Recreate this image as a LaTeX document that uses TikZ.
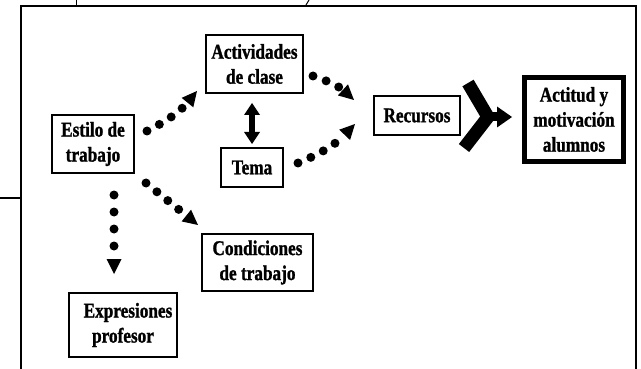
\documentclass[tikz,border=0pt]{standalone}
\usepackage{fontspec}
\newfontfamily\boxfont{Liberation Serif}[FakeStretch=0.82,FakeBold=1.2]
\usetikzlibrary{arrows.meta}
\usetikzlibrary{calc}

\begin{document}
\begin{tikzpicture}[x=1pt,y=-1pt,line join=miter]
  \tikzset{box/.style={draw,line width=2pt,inner sep=0pt,align=center,
      font=\boxfont\bfseries\fontsize{21}{25}\selectfont}}
  \tikzset{dotarrow/.style={line width=9pt,line cap=round,dash pattern=on 0pt off #1pt,
      -{Triangle[length=15pt,width=15pt,line width=0pt]}},dotarrow/.default=14}
  \tikzset{dbl/.style={line width=6pt,
      {Triangle[length=12pt,width=16pt,line width=0pt]}-{Triangle[length=12pt,width=16pt,line width=0pt]}}}
  \tikzset{merge/.style={line width=13pt}}
  \tikzset{mergehead/.style={line width=9pt,-{Triangle[length=15pt,width=21pt,line width=0pt]}}}

  \useasboundingbox (0,0) rectangle (641,369);

  % frame of the page
  \draw[line width=2pt] (21,369) -- (21,6) -- (636,6) -- (636,369);
  \draw[line width=1.5pt] (0,198) -- (21,198);
  \draw[line width=1pt] (76,0) -- (76,5);
  \draw[line width=1pt] (309,0) -- (306,5);

  \node[box,minimum width=97pt,minimum height=58pt] (act) at (254.5,64) {Actividades\\de clase};
  \node[box,minimum width=82pt,minimum height=58pt] (est) at (93,144) {Estilo de\\trabajo};
  \node[box,minimum width=62pt,minimum height=39pt] (tema) at (252,167.5) {Tema};
  \node[box,minimum width=86pt,minimum height=39pt] (rec) at (417,115.5) {Recursos};
  \node[box,line width=5pt,minimum width=99pt,minimum height=84pt] (acti) at (574,119.5)
    {Actitud y\\motivación\\alumnos};
  \node[box,minimum width=111pt,minimum height=57pt] (cond) at (257.5,262.5) {Condiciones\\de trabajo};
  \node[box,minimum width=108pt,minimum height=64pt] (exp) at (123,325) {\hspace*{10pt}Expresiones\\profesor};

  \draw[dotarrow] ([shift={(12,-13)}]est.east) to[bend right=12] ([shift={(-8,-3)}]act.south west);
  \draw[dotarrow] ([shift={(9,12)}]act.east) to[bend left=12] ([shift={(-19,5)}]rec.north west);
  \draw[dotarrow] ([shift={(14,-4.5)}]tema.east) to[bend right=12] ([shift={(-18,-12)}]rec.south west);
  \draw[dotarrow] ([shift={(11,9)}]est.south east) -- ([shift={(-3,-8)}]cond.north west);
  \draw[dotarrow=17] ([shift={(21,21)}]est.south) -- ([shift={(-9,-18)}]exp.north);

  \draw[dbl,shorten <=9pt,shorten >=3pt] (act.south -| tema.north) -- (tema.north);

  \draw[merge] ([shift={(7,-32.5)}]rec.east) -- ([shift={(27,1.5)}]rec.east) coordinate (mv)
    -- ([shift={(3,32.5)}]rec.east);
  \draw[mergehead,shorten >=10pt] (mv) -- (mv -| acti.west);
\end{tikzpicture}
\end{document}
